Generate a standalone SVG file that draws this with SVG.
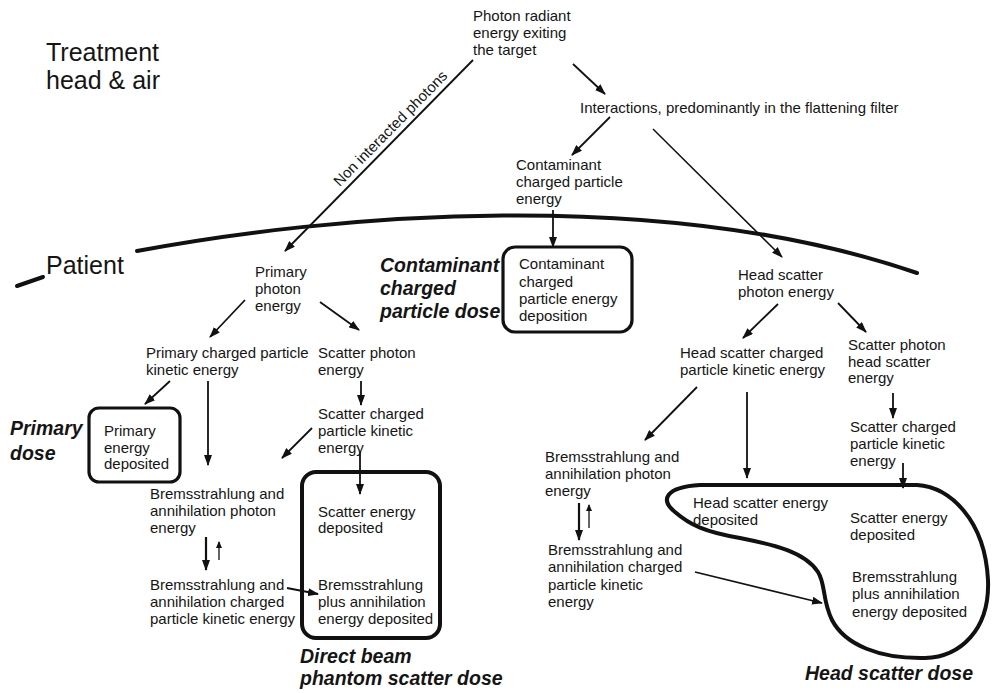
<svg xmlns="http://www.w3.org/2000/svg" width="993" height="693" viewBox="0 0 993 693">
<defs>
<marker id="ah" markerUnits="userSpaceOnUse" markerWidth="11" markerHeight="8" refX="10" refY="4" orient="auto"><path d="M0,0 L11,4 L0,8 z" fill="#111"/></marker>
<marker id="ahs" markerUnits="userSpaceOnUse" markerWidth="7" markerHeight="6" refX="6" refY="3" orient="auto"><path d="M0,0 L7,3 L0,6 z" fill="#111"/></marker>
<style>
text{font-family:"Liberation Sans",Arial,sans-serif;fill:#151515}
.s{font-size:15px}
.b{font-size:25px}
.d{font-size:19.5px;font-weight:bold;font-style:italic}
.a{stroke:#111;stroke-width:1.8;fill:none;marker-end:url(#ah)}
.t{stroke:#111;stroke-width:1.3;fill:none;marker-end:url(#ahs)}
.box{fill:none;stroke:#111;stroke-width:3.2}
.bound{fill:none;stroke:#111;stroke-width:4;stroke-linecap:round}
</style>
</defs>
<rect width="993" height="693" fill="#fff"/>

<g id="regions">
<path class="bound" d="M137,251 C330,215 660,185 917,273"/>
<path class="bound" d="M17,286 L43,277"/>
<text class="b" x="46" y="61">Treatment</text>
<text class="b" x="46" y="89">head &amp; air</text>
<text class="b" x="46" y="274">Patient</text>
</g>

<g id="connectors">
<path class="a" d="M473,60 L285,251"/>
<path class="a" d="M573,64 L605,94"/>
<path class="a" d="M610,117 L572,155"/>
<path class="a" d="M653,129 L782,257" style="stroke-width:1.5"/>
<path class="a" d="M553,210 L553,247"/>
<path class="a" d="M245,300 L210,337"/>
<path class="a" d="M320,302 L359,330"/>
<path class="a" d="M170,381 L145,404"/>
<path class="a" d="M208,381 L208,465"/>
<path class="a" d="M361,381 L361,405"/>
<path class="a" d="M312,428 L282,458"/>
<path class="a" d="M360,452 L360,494"/>
<path class="a" d="M206,537 L206,570" style="stroke-width:2.2"/>
<path class="t" d="M219,560 L219,542"/>
<path class="a" d="M287,588 L318,594"/>
<path class="a" d="M778,304 L743,338"/>
<path class="a" d="M838,303 L866,332"/>
<path class="a" d="M893,393 L893,418"/>
<path class="a" d="M697,387 L645,440"/>
<path class="a" d="M747,392 L747,478"/>
<path class="a" d="M903,463 L903,488"/>
<path class="a" d="M579,503 L579,540" style="stroke-width:2.2"/>
<path class="t" d="M589,528 L589,505"/>
<path class="a" d="M695,572 L822,603"/>
<text class="s" transform="translate(394,132) rotate(-45.5)" text-anchor="middle">Non interacted photons</text>
</g>

<g id="n-photon">
<text class="s" x="473" y="21">Photon radiant</text>
<text class="s" x="473" y="38">energy exiting</text>
<text class="s" x="473" y="55">the target</text>
</g>
<g id="n-interactions">
<text class="s" x="580" y="113">Interactions, predominantly in the flattening filter</text>
</g>
<g id="n-contam-energy">
<text class="s" x="516" y="170">Contaminant</text>
<text class="s" x="516" y="187">charged particle</text>
<text class="s" x="516" y="204">energy</text>
</g>
<g id="n-primary-photon">
<text class="s" x="255" y="277">Primary</text>
<text class="s" x="255" y="294">photon</text>
<text class="s" x="255" y="311">energy</text>
</g>
<g id="n-primary-charged">
<text class="s" x="146" y="358">Primary charged particle</text>
<text class="s" x="146" y="375">kinetic energy</text>
</g>
<g id="n-scatter-photon">
<text class="s" x="318" y="358">Scatter photon</text>
<text class="s" x="318" y="375">energy</text>
</g>
<g id="n-scatter-charged">
<text class="s" x="318" y="419">Scatter charged</text>
<text class="s" x="318" y="436">particle kinetic</text>
<text class="s" x="318" y="453">energy</text>
</g>
<g id="n-primary-dose">
<rect class="box" x="89" y="408" width="91" height="74" rx="10"/>
<text class="s" x="104" y="436">Primary</text>
<text class="s" x="104" y="453">energy</text>
<text class="s" x="104" y="469">deposited</text>
<text class="d" x="10" y="435">Primary</text>
<text class="d" x="10" y="460">dose</text>
</g>
<g id="n-brems-photon-l">
<text class="s" x="150" y="499">Bremsstrahlung and</text>
<text class="s" x="150" y="516">annihilation photon</text>
<text class="s" x="150" y="533">energy</text>
</g>
<g id="n-brems-charged-l">
<text class="s" x="150" y="590">Bremsstrahlung and</text>
<text class="s" x="150" y="607">annihilation charged</text>
<text class="s" x="150" y="624">particle kinetic energy</text>
</g>
<g id="n-direct-beam">
<rect class="box" x="302" y="472" width="138" height="166" rx="14" style="stroke-width:4"/>
<text class="s" x="318" y="517">Scatter energy</text>
<text class="s" x="318" y="533">deposited</text>
<text class="s" x="318" y="590">Bremsstrahlung</text>
<text class="s" x="318" y="607">plus annihilation</text>
<text class="s" x="318" y="624">energy deposited</text>
<text class="d" x="300" y="663">Direct beam</text>
<text class="d" x="300" y="685">phantom scatter dose</text>
</g>
<g id="n-contam-dose">
<rect class="box" x="503" y="247" width="129" height="85" rx="12"/>
<text class="s" x="519" y="269">Contaminant</text>
<text class="s" x="519" y="287">charged</text>
<text class="s" x="519" y="304">particle energy</text>
<text class="s" x="519" y="321">deposition</text>
<text class="d" x="380" y="272">Contaminant</text>
<text class="d" x="380" y="295">charged</text>
<text class="d" x="380" y="318">particle dose</text>
</g>
<g id="n-head-scatter-photon">
<text class="s" x="738" y="280">Head scatter</text>
<text class="s" x="738" y="297">photon energy</text>
</g>
<g id="n-head-scatter-charged">
<text class="s" x="680" y="358">Head scatter charged</text>
<text class="s" x="680" y="375">particle kinetic energy</text>
</g>
<g id="n-scatter-photon-head">
<text class="s" x="848" y="350">Scatter photon</text>
<text class="s" x="848" y="367">head scatter</text>
<text class="s" x="848" y="383">energy</text>
</g>
<g id="n-scatter-charged-r">
<text class="s" x="850" y="432">Scatter charged</text>
<text class="s" x="850" y="449">particle kinetic</text>
<text class="s" x="850" y="466">energy</text>
</g>
<g id="n-brems-photon-r">
<text class="s" x="545" y="462">Bremsstrahlung and</text>
<text class="s" x="545" y="479">annihilation photon</text>
<text class="s" x="545" y="496">energy</text>
</g>
<g id="n-brems-charged-r">
<text class="s" x="548" y="555">Bremsstrahlung and</text>
<text class="s" x="548" y="572">annihilation charged</text>
<text class="s" x="548" y="590">particle kinetic</text>
<text class="s" x="548" y="607">energy</text>
</g>
<g id="n-head-scatter-dose">
<path class="box" style="stroke-width:4" d="M700,485 L917,485 C950,487 985,520 988,580 C990,630 960,657 925,658 C880,659 845,645 832,620 C822,600 826,585 818,572 C805,552 775,545 740,538 C705,532 690,525 675,512 C660,500 665,487 700,485 Z"/>
<text class="s" x="693" y="508">Head scatter energy</text>
<text class="s" x="693" y="525">deposited</text>
<text class="s" x="850" y="523">Scatter energy</text>
<text class="s" x="850" y="540">deposited</text>
<text class="s" x="852" y="582">Bremsstrahlung</text>
<text class="s" x="852" y="599">plus annihilation</text>
<text class="s" x="852" y="617">energy deposited</text>
<text class="d" x="805" y="680">Head scatter dose</text>
</g>
</svg>
